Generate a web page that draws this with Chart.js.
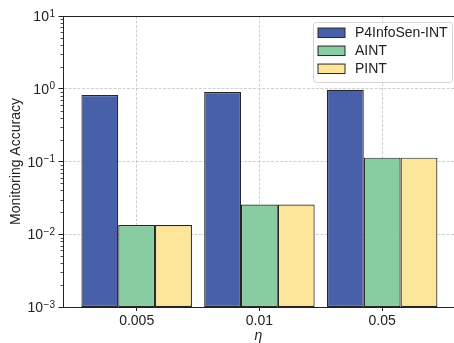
<!DOCTYPE html>
<html>
<head>
<meta charset="utf-8">
<script src="https://cdn.jsdelivr.net/npm/chart.js@4"></script>
<style>
  html, body { margin: 0; padding: 0; background: #fff; }
  #wrap { width: 454px; height: 343px; position: relative; }
</style>
</head>
<body>
<div id="wrap"><canvas id="chart"></canvas></div>
<script>
const categories = ['0.005', '0.01', '0.05'];
const seriesNames = ['P4InfoSen-INT', 'AINT', 'PINT'];
const p4infosen = [0.82, 0.90, 0.97];
const aint = [0.0134, 0.0257, 0.113];
const pint = [0.0134, 0.0257, 0.113];
const yTicks = [0.001, 0.01, 0.1, 1, 10];

const colors = ['#4860aa', '#88cca1', '#fde699'];
const edge = '#262626';
const FONT = "'Liberation Sans', Arial, sans-serif";
const TEXT = '#222';

const toPoints = vals => vals.map((y, i) => ({ x: i, y }));

const extras = {
  id: 'extras',
  afterDraw(chart) {
    const { ctx, chartArea: a } = chart;
    const ys = chart.scales.y;
    ctx.save();

    // top spine
    ctx.strokeStyle = TEXT;
    ctx.lineWidth = 1;
    ctx.beginPath();
    ctx.moveTo(a.left, Math.round(a.top) + 0.5);
    ctx.lineTo(a.right, Math.round(a.top) + 0.5);
    ctx.stroke();

    // minor log ticks
    ctx.lineWidth = 0.8;
    for (let d = -3; d < 1; d++) {
      for (let k = 2; k <= 9; k++) {
        const y = Math.round(ys.getPixelForValue(k * Math.pow(10, d))) + 0.5;
        ctx.beginPath();
        ctx.moveTo(a.left - 2.5, y);
        ctx.lineTo(a.left, y);
        ctx.stroke();
      }
    }

    // y tick labels as 10^n
    ctx.fillStyle = TEXT;
    ctx.textBaseline = 'alphabetic';
    yTicks.forEach(v => {
      const e = Math.round(Math.log10(v));
      const expStr = (e < 0 ? '\u2212' : '') + Math.abs(e);
      const y = ys.getPixelForValue(v);
      ctx.font = '10px ' + FONT;
      const ew = ctx.measureText(expStr).width;
      const right = 55;
      ctx.textAlign = 'left';
      ctx.fillText(expStr, right - ew, y + 0.5);
      ctx.font = '14px ' + FONT;
      ctx.textAlign = 'right';
      ctx.fillText('10', right - ew - 0.5, y + 5);
    });

    // legend
    const lx = 313.5, ly = 22.5, lw = 139, lh = 60, r = 3;
    ctx.beginPath();
    ctx.moveTo(lx + r, ly);
    ctx.arcTo(lx + lw, ly, lx + lw, ly + lh, r);
    ctx.arcTo(lx + lw, ly + lh, lx, ly + lh, r);
    ctx.arcTo(lx, ly + lh, lx, ly, r);
    ctx.arcTo(lx, ly, lx + lw, ly, r);
    ctx.closePath();
    ctx.fillStyle = 'rgba(255,255,255,0.85)';
    ctx.fill();
    ctx.strokeStyle = '#d4d4d4';
    ctx.lineWidth = 1;
    ctx.stroke();

    chart.data.datasets.forEach((ds, i) => {
      const cy = 32.8 + i * 18;
      ctx.fillStyle = ds.backgroundColor;
      ctx.fillRect(318, cy - 4.75, 27, 9.5);
      ctx.strokeStyle = ds.borderColor;
      ctx.lineWidth = 1;
      ctx.strokeRect(318, cy - 4.75, 27, 9.5);
      ctx.fillStyle = TEXT;
      ctx.font = '14px ' + FONT;
      ctx.textAlign = 'left';
      ctx.textBaseline = 'middle';
      ctx.fillText(ds.label, 355, cy + 0.5);
    });

    ctx.restore();
  }
};

const seriesValues = [p4infosen, aint, pint];

new Chart(document.getElementById('chart'), {
  type: 'bar',
  data: {
    datasets: seriesValues.map((vals, i) => ({
      label: seriesNames[i],
      data: toPoints(vals),
      backgroundColor: colors[i],
      borderColor: edge,
      borderWidth: 1.2,
      borderSkipped: false,
      categoryPercentage: 0.9,
      barPercentage: 1.0
    }))
  },
  options: {
    responsive: true,
    maintainAspectRatio: false,
    animation: false,
    layout: { padding: { top: 16, left: 0, right: 0, bottom: 0 } },
    plugins: { legend: { display: false }, tooltip: { enabled: false } },
    scales: {
      x: {
        type: 'linear',
        offset: false,
        min: -0.6,
        max: 2.585,
        afterBuildTicks: s => { s.ticks = categories.map((c, i) => ({ value: i })); },
        afterFit: s => { s.height = 36; },
        ticks: {
          callback: v => categories[v],
          font: { family: FONT, size: 14 },
          color: TEXT,
          padding: 2,
          maxRotation: 0,
          autoSkip: false
        },
        grid: {
          offset: false,
          color: '#c4c4c4',
          lineWidth: 0.8,
          tickLength: 4,
          tickColor: TEXT,
          tickWidth: 1
        },
        border: { color: TEXT, width: 1, dash: [3, 1.5] },
        title: {
          display: true,
          text: '\u03b7',
          font: { family: FONT, size: 14, style: 'italic', lineHeight: 1.0 },
          color: TEXT,
          padding: { top: 0, bottom: 0 }
        }
      },
      y: {
        type: 'logarithmic',
        min: 0.001,
        max: 10,
        afterBuildTicks: s => { s.ticks = yTicks.map(v => ({ value: v, major: true })); },
        afterFit: s => { s.width = 63; },
        ticks: { display: false },
        grid: {
          color: '#c4c4c4',
          lineWidth: 0.8,
          tickLength: 4.5,
          tickColor: TEXT,
          tickWidth: 1
        },
        border: { color: TEXT, width: 1, dash: [3, 1.5] },
        title: {
          display: true,
          text: 'Monitoring Accuracy',
          font: { family: FONT, size: 14, lineHeight: 1.2 },
          color: TEXT,
          padding: { top: 7.5, bottom: 0 }
        }
      }
    }
  },
  plugins: [extras]
});
</script>
</body>
</html>
